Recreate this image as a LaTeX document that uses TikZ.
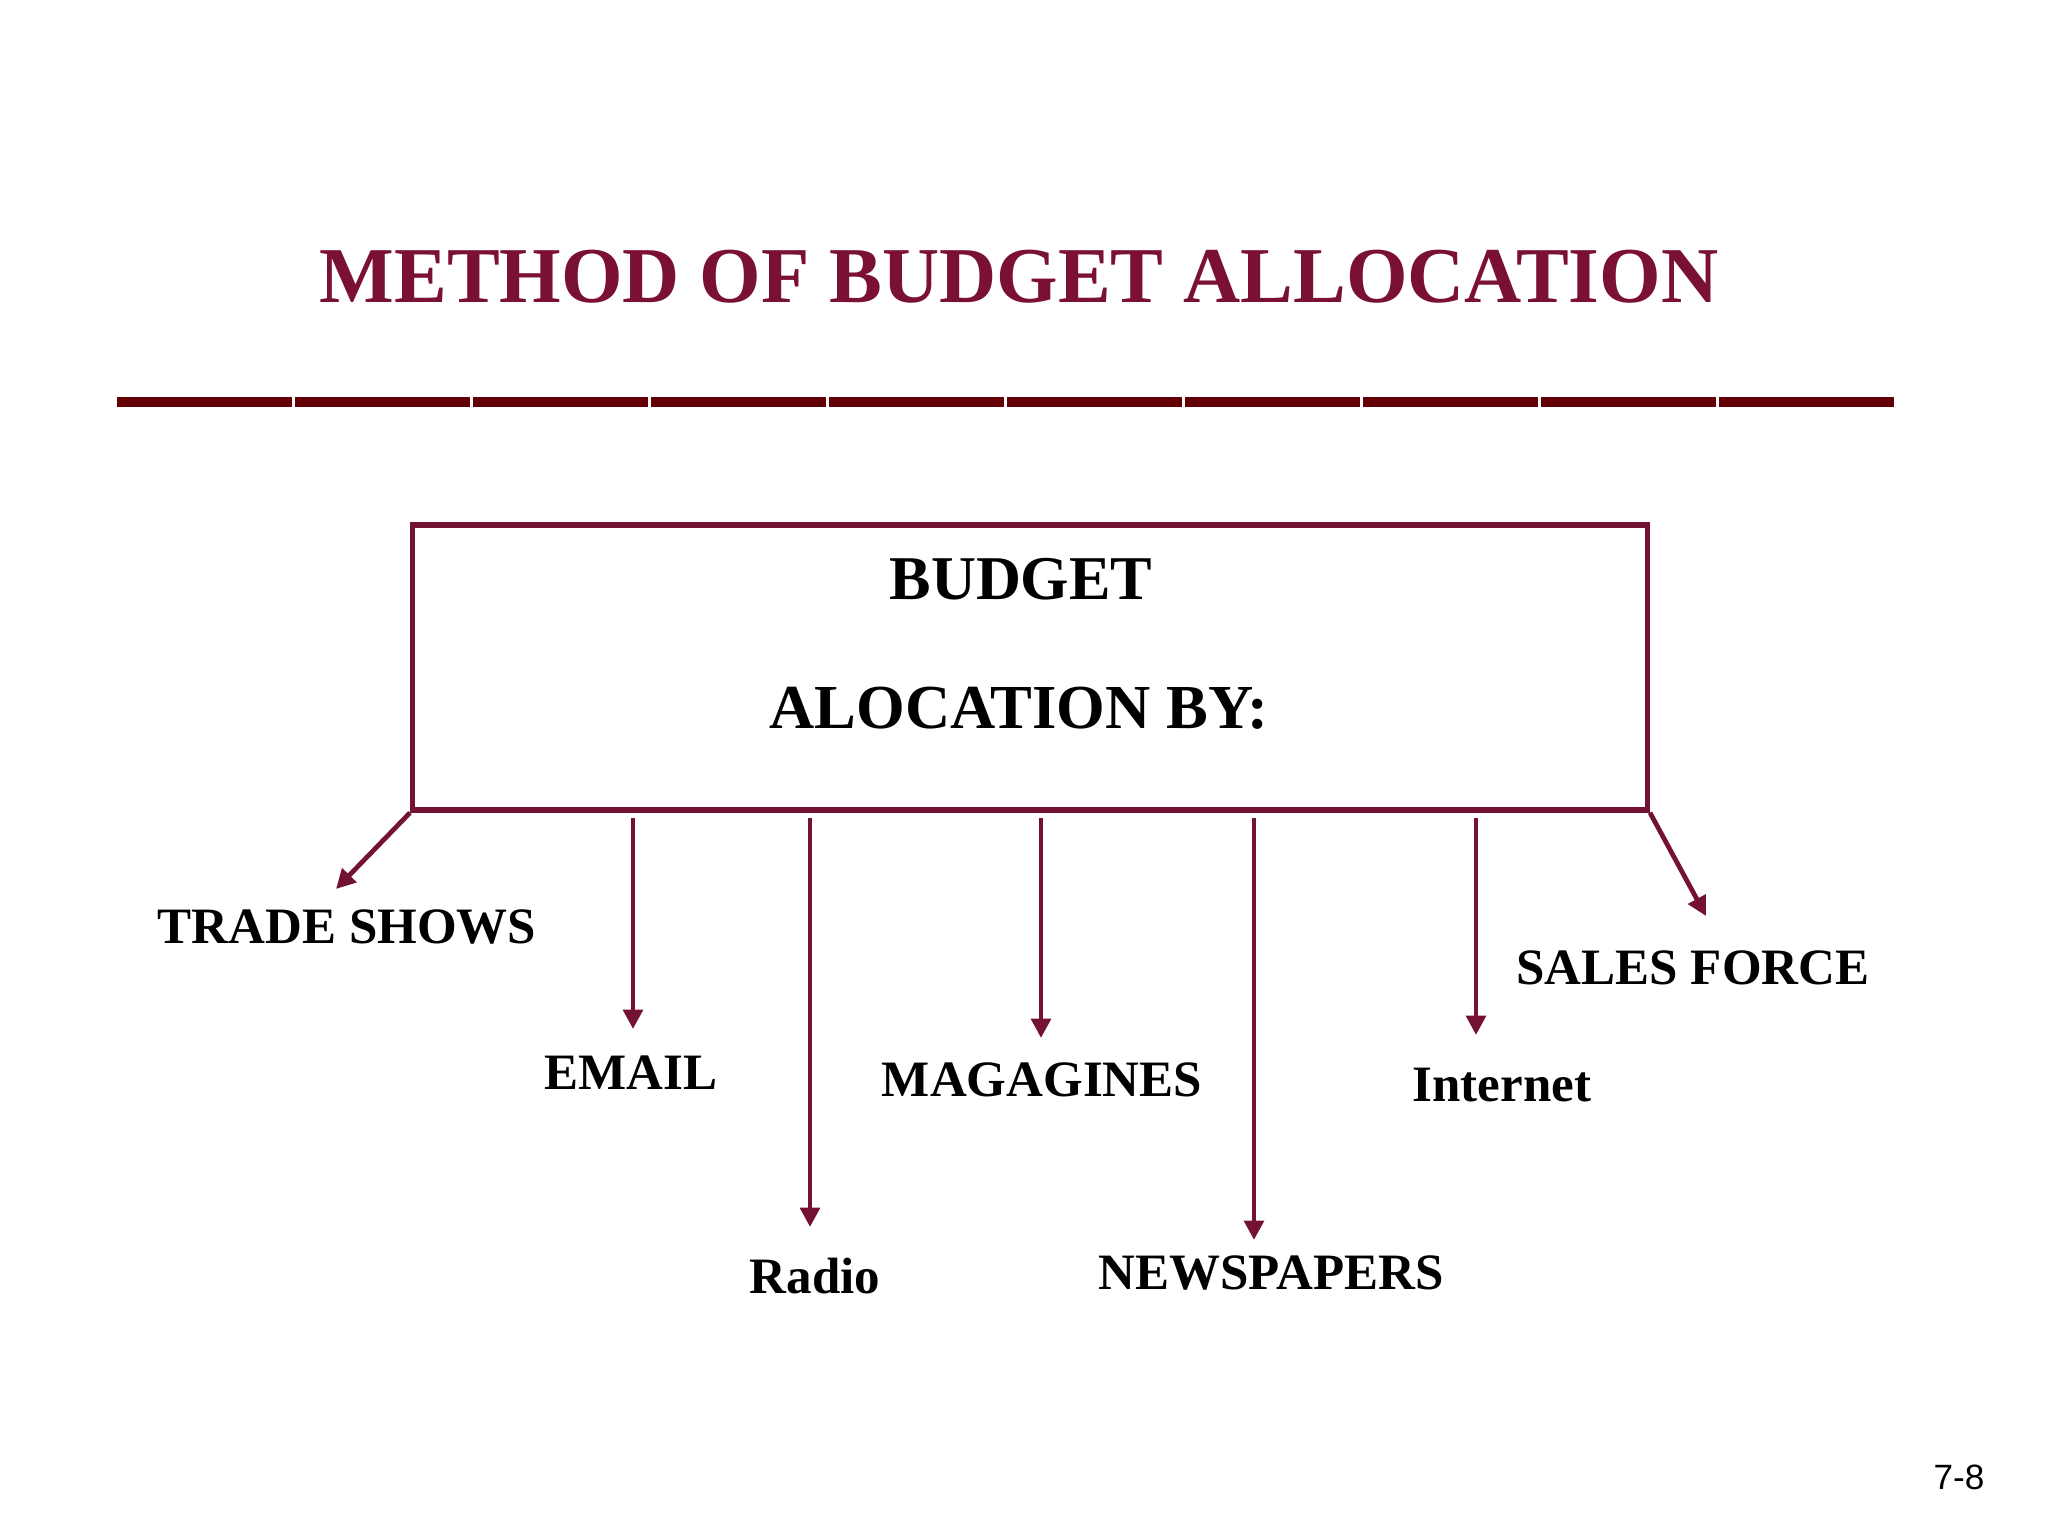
\documentclass[tikz,border=0pt]{standalone}
\usepackage{fontspec}
\setmainfont{Liberation Serif}
\newfontfamily\slidenumfont{Liberation Sans}
\usetikzlibrary{arrows.meta, calc}
\definecolor{titlered}{RGB}{122,16,54}
\definecolor{linered}{RGB}{116,18,54}
\definecolor{rulered}{RGB}{98,0,6}

\begin{document}
\begin{tikzpicture}[x = 0.01cm, y = -0.01cm]
\tikzstyle{LabelStyle}=[inner sep = 0pt,
                        font = \fontsize{14.5}{17}\selectfont\bfseries]
\tikzstyle{ArrowStyle}=[draw = linered, line width = 1.35pt,
                        -{Triangle[length = 5.5pt, width = 5.5pt]}]
\tikzstyle{RuleStyle}=[draw = rulered, line width = 2.85pt]

\useasboundingbox (0,0) rectangle (2048,1536);

\node[inner sep = 0pt, text = titlered,
      font = \fontsize{22.5}{27}\selectfont\bfseries] (title) at (1019,277) {METHOD OF BUDGET ALLOCATION};
\foreach \i in {0,...,9}
  \draw[RuleStyle] (117+\i*178,402) -- ++(175,0);

\node[draw = linered, line width = 1.5pt, inner sep = 0pt,
      minimum width = 12.34cm, minimum height = 2.85cm] (box) at (1030,667.5) {};
\node[inner sep = 0pt, font = \fontsize{17.7}{21}\selectfont\bfseries] (budget) at (1021,579) {BUDGET};
\node[inner sep = 0pt, font = \fontsize{17.8}{21}\selectfont\bfseries] (alloc) at (1019,708) {ALOCATION BY:};

\node[LabelStyle] (trade) at (347,927) {TRADE SHOWS};
\node[LabelStyle] (email) at (631,1073) {EMAIL};
\node[LabelStyle] (radio) at (815,1276) {Radio};
\node[LabelStyle] (mag) at (1042,1080) {MAGAGINES};
\node[LabelStyle] (news) at (1271,1273) {NEWSPAPERS};
\node[LabelStyle] (inet) at (1502,1085) {Internet};
\node[LabelStyle] (sales) at (1693,968) {SALES FORCE};

\coordinate (tradetip) at (336,889);
\coordinate (emailtip) at (633,1029);
\coordinate (radiotip) at (810,1227);
\coordinate (magtip) at (1041,1038);
\coordinate (newstip) at (1254,1240);
\coordinate (inettip) at (1476,1035);
\coordinate (salestip) at (1706,916);

\draw[ArrowStyle] (box.south west) -- (tradetip);
\draw[ArrowStyle] (box.south east) -- (salestip);
\foreach \t in {emailtip, radiotip, magtip, newstip, inettip}
  \draw[ArrowStyle] ($(\t |- box.south)+(0,5)$) -- (\t);

\node[inner sep = 0pt, font = \slidenumfont\fontsize{10}{12}\selectfont] (slidenum) at (1959,1477) {7-8};
\end{tikzpicture}
\end{document}
